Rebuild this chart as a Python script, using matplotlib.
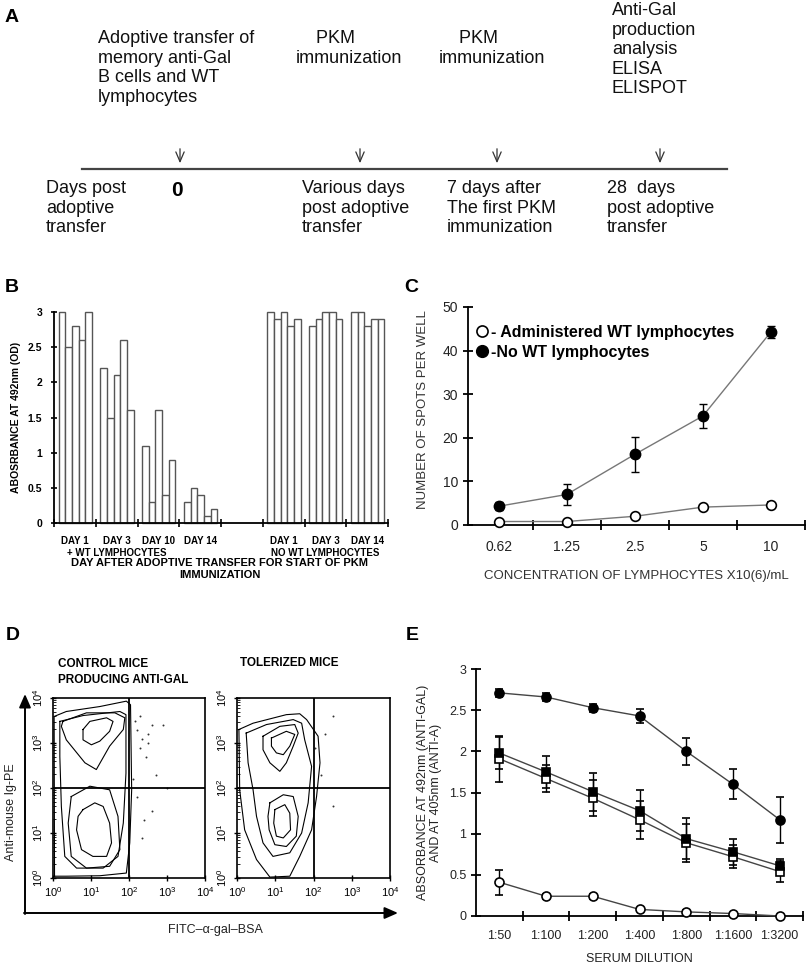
import numpy as np
import matplotlib.pyplot as plt

plt.rcParams['font.family'] = ['Liberation Sans', 'DejaVu Sans']
plt.rcParams['mathtext.default'] = 'regular'
plt.rcParams['axes.linewidth'] = 1.3

W, H = 809, 975

# ---------------- panel A : schedule ----------------
a_top_text = ["Adoptive transfer of\nmemory anti-Gal\nB cells and WT\nlymphocytes",
              "    PKM\nimmunization",
              "    PKM\nimmunization",
              "Anti-Gal\nproduction\nanalysis\nELISA\nELISPOT"]
a_bottom_text = ["Days post\nadoptive\ntransfer",
                 "Various days\npost adoptive\ntransfer",
                 "7 days after\nThe first PKM\nimmunization",
                 "28  days\npost adoptive\ntransfer"]
a_zero = "0"

# ---------------- panel B : ELISA bars ----------------
b_slots = [0, 1, 2, 3, 5, 6, 7]          # slot 4 is the gap between the two series
b_labels = ["DAY 1", "DAY 3", "DAY 10", "DAY 14", "DAY 1", "DAY 3", "DAY 14"]
b_series = ["+ WT LYMPHOCYTES", "NO WT LYMPHOCYTES"]
b_values = [[3.0, 2.5, 2.8, 2.6, 3.0],
            [2.2, 1.5, 2.1, 2.6, 1.6],
            [1.1, 0.3, 1.6, 0.4, 0.9],
            [0.3, 0.5, 0.4, 0.1, 0.2],
            [3.0, 2.9, 3.0, 2.8, 2.9],
            [2.8, 2.9, 3.0, 3.0, 2.9],
            [3.0, 3.0, 2.8, 2.9, 2.9]]

# ---------------- panel C : ELISPOT ----------------
c_conc = ["0.62", "1.25", "2.5", "5", "10"]
c_no_wt = [4.3, 7.0, 16.2, 25.0, 44.3]
c_no_wt_err = [0.9, 2.3, 4.0, 2.7, 1.3]
c_wt = [0.8, 0.8, 2.0, 4.1, 4.6]
c_wt_err = [0.4, 0.3, 0.5, 0.6, 0.7]

# ---------------- panel D : flow cytometry outlines (log10 decades) ----------------
d_control = [
    [(0.04, 0.04), (0.03, 3.59), (0.35, 3.70), (1.23, 3.81), (1.93, 3.93), (2.04, 3.85),
     (2.07, 1.96), (2.02, 0.78), (1.93, 0.11), (1.23, 0.05), (0.35, 0.04)],
    [(0.18, 3.48), (0.79, 3.61), (1.76, 3.70), (1.92, 3.63), (1.92, 2.33), (1.85, 1.22),
     (1.71, 0.48), (1.32, 0.22), (0.62, 0.22), (0.31, 0.48), (0.22, 1.59), (0.18, 2.70)],
    [(0.26, 3.48), (0.88, 3.67), (1.63, 3.67), (1.89, 3.56), (1.85, 3.30), (1.49, 2.93),
     (1.14, 2.41), (0.84, 2.56), (0.35, 3.07), (0.22, 3.37)],
    [(0.79, 3.30), (0.97, 3.48), (1.41, 3.56), (1.58, 3.48), (1.49, 3.26), (1.23, 3.04),
     (1.01, 2.96), (0.79, 3.07)],
    [(0.48, 1.81), (0.97, 2.04), (1.49, 1.96), (1.71, 1.37), (1.76, 0.63), (1.49, 0.26),
     (0.88, 0.22), (0.48, 0.48), (0.40, 1.22)],
    [(0.79, 1.52), (1.10, 1.67), (1.32, 1.59), (1.49, 1.22), (1.54, 0.78), (1.41, 0.48),
     (1.05, 0.48), (0.75, 0.63), (0.62, 1.07), (0.66, 1.37)],
]
d_control_dots = [(2.2, 3.3), (2.35, 3.1), (2.5, 3.2), (2.6, 3.4), (2.3, 2.9), (2.45, 2.7),
                  (2.7, 2.3), (2.9, 3.4), (2.2, 1.8), (2.4, 1.3), (2.6, 1.5), (2.35, 0.9),
                  (3.0, 2.0), (2.1, 2.2), (2.5, 3.0), (2.15, 3.5), (2.3, 3.6)]
d_tolerized = [
    [(0.05, 3.30), (0.42, 3.44), (1.29, 3.63), (1.64, 3.65), (1.82, 3.52), (2.12, 3.15),
     (2.17, 2.56), (2.08, 1.81), (1.95, 1.07), (1.64, 0.48), (1.38, 0.04), (0.86, 0.02),
     (0.51, 0.41), (0.20, 1.07), (0.07, 1.96)],
    [(0.24, 3.22), (0.77, 3.41), (1.47, 3.52), (1.69, 3.44), (1.77, 3.07), (1.95, 2.48),
     (1.86, 1.67), (1.69, 1.00), (1.38, 0.56), (0.94, 0.48), (0.68, 0.78), (0.51, 1.37),
     (0.42, 1.96), (0.29, 2.56)],
    [(0.68, 3.15), (1.12, 3.37), (1.51, 3.41), (1.60, 3.22), (1.47, 2.93), (1.29, 2.56),
     (1.12, 2.37), (0.86, 2.56), (0.68, 2.85)],
    [(0.90, 3.11), (1.29, 3.26), (1.51, 3.19), (1.38, 2.93), (1.21, 2.74), (1.03, 2.78),
     (0.90, 2.93)],
    [(0.86, 1.67), (1.21, 1.85), (1.47, 1.81), (1.60, 1.37), (1.55, 0.93), (1.29, 0.70),
     (0.99, 0.74), (0.84, 1.07), (0.81, 1.37)],
    [(0.99, 1.52), (1.25, 1.63), (1.38, 1.44), (1.40, 1.07), (1.21, 0.89), (1.03, 0.93),
     (0.96, 1.22)],
]
d_tolerized_dots = [(2.5, 3.6), (2.2, 2.3), (2.5, 1.6), (2.3, 3.2), (2.05, 2.9)]
d_ticks = ["$10^{0}$", "$10^{1}$", "$10^{2}$", "$10^{3}$", "$10^{4}$"]

# ---------------- panel E : ELISA dilution ----------------
e_dil = ["1:50", "1:100", "1:200", "1:400", "1:800", "1:1600", "1:3200"]
e_fcirc = [2.71, 2.66, 2.53, 2.43, 2.00, 1.60, 1.17]
e_fcirc_err = [0.05, 0.05, 0.05, 0.09, 0.16, 0.18, 0.28]
e_fsq = [1.98, 1.75, 1.51, 1.28, 0.94, 0.78, 0.61]
e_fsq_err = [0.19, 0.19, 0.23, 0.25, 0.25, 0.16, 0.08]
e_osq = [1.91, 1.67, 1.43, 1.17, 0.89, 0.72, 0.54]
e_osq_err = [0.28, 0.16, 0.22, 0.23, 0.23, 0.14, 0.13]
e_ocirc = [0.41, 0.24, 0.24, 0.08, 0.05, 0.03, 0.0]
e_ocirc_err = [0.15, 0.03, 0.03, 0.02, 0.02, 0.01, 0.0]


def rect(l, t, r, b):
    return [l / W, 1 - b / H, (r - l) / W, (b - t) / H]


fig = plt.figure(figsize=(W / 100, H / 100), dpi=100)
fig.patch.set_facecolor('white')

ov = fig.add_axes([0, 0, 1, 1])
ov.set_xlim(0, W)
ov.set_ylim(H, 0)
ov.axis('off')

# panel letters
for letter, x, y in [("A", 12, 18), ("B", 12, 287), ("C", 411, 287), ("D", 13, 635), ("E", 412, 635)]:
    ov.text(x, y, letter, fontsize=14, fontweight='bold', ha='center', va='center')

# ---- A
top_x = [98, 296, 439, 612]
top_y = [30, 30, 30, 2]
for x, y, t in zip(top_x, top_y, a_top_text):
    ov.text(x, y, t, fontsize=13, va='top', ha='left', linespacing=1.2, color='#111')
bot_x = [46, 302, 447, 607]
for x, t in zip(bot_x, a_bottom_text):
    ov.text(x, 180, t, fontsize=13, va='top', ha='left', linespacing=1.2, color='#111')
ov.text(177, 190, a_zero, fontsize=15, fontweight='bold', ha='center', va='center')
ov.plot([82, 727], [169, 169], color='#444', lw=1.6)
for x in [180, 360, 497, 660]:
    ov.annotate('', xy=(x, 166), xytext=(x, 146),
                arrowprops=dict(arrowstyle='->,head_length=0.7,head_width=0.3', lw=0.9, color='#333'))

# ---- B
axb = fig.add_axes(rect(54, 312, 388, 523))
bw = 0.16
for slot, vals in zip(b_slots, b_values):
    xs = slot + 0.11 + bw * (np.arange(len(vals)) + 0.5)
    axb.bar(xs, vals, width=bw, facecolor='white', edgecolor='#555', linewidth=1.0, clip_on=False)
axb.set_xlim(0, 8)
axb.set_ylim(0, 3)
axb.spines[['top', 'right']].set_visible(False)
axb.set_xticks(range(9))
axb.set_xticklabels([])
axb.set_xticks([s + 0.5 for s in b_slots], minor=True)
axb.set_xticklabels(b_labels, minor=True, fontsize=7, fontweight='bold')
axb.tick_params(axis='x', which='major', direction='inout', length=6, width=1.2)
axb.tick_params(axis='x', which='minor', length=0, pad=9)
axb.set_yticks(np.arange(0, 3.01, 0.5))
axb.set_yticklabels(['0', '0.5', '1', '1.5', '2', '2.5', '3'], fontsize=7.5, fontweight='bold')
axb.tick_params(axis='y', direction='inout', length=5, width=1.2, pad=6)
axb.set_ylabel("ABOSRBANCE AT 492nm (OD)", fontsize=7.5, fontweight='bold')
axb.yaxis.set_label_coords(-0.10, 0.5)
for name, slot in zip(b_series, [1, 6]):
    axb.text(slot + 0.5, -0.12, name, transform=axb.get_xaxis_transform(), fontsize=7,
             fontweight='bold', ha='center', va='top')
ov.text(220, 569, "DAY AFTER ADOPTIVE TRANSFER FOR START OF PKM\nIMMUNIZATION", fontsize=8,
        fontweight='bold', ha='center', va='center', linespacing=1.3)

# ---- C
axc = fig.add_axes(rect(468, 307, 805, 525))
cx = np.arange(len(c_conc))
axc.errorbar(cx, c_wt, yerr=c_wt_err, color='#777', lw=1.0, ecolor='k', elinewidth=1, capsize=3,
             marker='o', ms=7, mfc='white', mec='k', mew=1.2, clip_on=False, zorder=3)
axc.errorbar(cx, c_no_wt, yerr=c_no_wt_err, color='#777', lw=1.0, ecolor='k', elinewidth=1, capsize=3,
             marker='o', ms=7.5, mfc='k', mec='k', clip_on=False, zorder=3)
axc.set_xlim(-0.45, 4.5)
axc.set_ylim(0, 50)
axc.spines[['top', 'right']].set_visible(False)
axc.set_xticks(cx)
axc.set_xticklabels(c_conc, fontsize=10, color='#222')
axc.tick_params(axis='x', which='major', length=0, pad=11)
axc.set_xticks(cx + 0.5, minor=True)
axc.tick_params(axis='x', which='minor', direction='inout', length=7, width=1.3)
axc.set_yticks(range(0, 51, 10))
axc.tick_params(axis='y', direction='inout', length=7, width=1.3, labelsize=10, labelcolor='#222')
axc.set_ylabel("NUMBER OF SPOTS PER WELL", fontsize=9.5, color='#333')
axc.yaxis.set_label_coords(-0.115, 0.53)
axc.set_xlabel("CONCENTRATION OF LYMPHOCYTES X10(6)/mL", fontsize=9.5, color='#333', labelpad=11)
leg_h = [axc.plot([], [], 'o', ms=8, mfc='white', mec='k', mew=1.2)[0],
         axc.plot([], [], 'o', ms=8.5, mfc='k', mec='k')[0]]
axc.legend(leg_h, ["- Administered WT lymphocytes", "-No WT lymphocytes"], loc='upper left',
           bbox_to_anchor=(-0.01, 0.97), frameon=False, handlelength=0.8, handletextpad=0.15,
           labelspacing=0.3, borderaxespad=0.3, prop={'weight': 'bold', 'size': 11.5})

# ---- D
for box, outlines, dots in [((53, 698, 205, 878), d_control, d_control_dots),
                            ((237, 698, 390, 878), d_tolerized, d_tolerized_dots)]:
    axd = fig.add_axes(rect(*box))
    axd.set_xscale('log')
    axd.set_yscale('log')
    axd.set_xlim(1, 1e4)
    axd.set_ylim(1, 1e4)
    for pts in outlines:
        p = np.array(pts + [pts[0]])
        axd.plot(10 ** p[:, 0], 10 ** p[:, 1], color='k', lw=0.8)
    dp = np.array(dots)
    axd.scatter(10 ** dp[:, 0], 10 ** dp[:, 1], s=2, color='#333', lw=0)
    axd.axvline(100, color='k', lw=1.3)
    axd.axhline(100, color='k', lw=1.3)
    dec = [1, 10, 100, 1000, 10000]
    axd.set_xticks(dec)
    axd.set_xticklabels(d_ticks, fontsize=8)
    axd.set_yticks(dec)
    axd.set_yticklabels(d_ticks, fontsize=8, rotation=90, va='center')
    axd.tick_params(which='major', direction='inout', length=4, width=1)
    axd.tick_params(which='minor', direction='in', length=2, width=0.6)
    for s in axd.spines.values():
        s.set_linewidth(1.2)

ov.text(58, 672, "CONTROL MICE\nPRODUCING ANTI-GAL", fontsize=8.5, fontweight='bold', ha='left',
        va='center', linespacing=1.5)
ov.text(240, 663, "TOLERIZED MICE", fontsize=8.5, fontweight='bold', ha='left', va='center')
ov.annotate('', xy=(25, 694), xytext=(25, 914),
            arrowprops=dict(arrowstyle='-|>,head_length=0.8,head_width=0.35', lw=1.4, color='k',
                            shrinkA=0, shrinkB=0))
ov.annotate('', xy=(398, 913), xytext=(24, 913),
            arrowprops=dict(arrowstyle='-|>,head_length=0.8,head_width=0.35', lw=1.4, color='k',
                            shrinkA=0, shrinkB=0))
ov.text(11, 812, "Anti-mouse Ig-PE", fontsize=9, rotation=90, ha='center', va='center', color='#222')
ov.text(215, 930, "FITC\u2013\u03b1-gal\u2013BSA", fontsize=9, ha='center', va='center', color='#222')

# ---- E
axe = fig.add_axes(rect(476, 669, 803, 916))
ex = np.arange(len(e_dil))
kw = dict(color='#444', lw=1.0, ecolor='k', elinewidth=1, capsize=3, mec='k', mew=1.2,
          clip_on=False, zorder=3)
axe.errorbar(ex, e_ocirc, yerr=e_ocirc_err, marker='o', ms=6.5, mfc='white', **kw)
axe.errorbar(ex, e_osq, yerr=e_osq_err, marker='s', ms=6, mfc='white', **kw)
axe.errorbar(ex, e_fsq, yerr=e_fsq_err, marker='s', ms=6, mfc='k', **kw)
axe.errorbar(ex, e_fcirc, yerr=e_fcirc_err, marker='o', ms=6.5, mfc='k', **kw)
axe.set_xlim(-0.5, 6.5)
axe.set_ylim(0, 3)
axe.spines[['top', 'right']].set_visible(False)
axe.set_xticks(ex)
axe.set_xticklabels(e_dil, fontsize=9, color='#222')
axe.tick_params(axis='x', which='major', length=0, pad=10)
axe.set_xticks(ex + 0.5, minor=True)
axe.tick_params(axis='x', which='minor', direction='inout', length=7, width=1.3)
axe.set_yticks(np.arange(0, 3.01, 0.5))
axe.set_yticklabels(['0', '0.5', '1', '1.5', '2', '2.5', '3'])
axe.tick_params(axis='y', direction='inout', length=7, width=1.3, labelsize=9, labelcolor='#222')
axe.set_ylabel("ABSORBANCE AT 492nm (ANTI-GAL)\nAND AT 405nm (ANTI-A)", fontsize=9, color='#222',
               linespacing=1.1)
axe.yaxis.set_label_coords(-0.105, 0.5)
axe.set_xlabel("SERUM DILUTION", fontsize=9, color='#222', labelpad=8)

fig.savefig("out.png", dpi=100, facecolor='white')
